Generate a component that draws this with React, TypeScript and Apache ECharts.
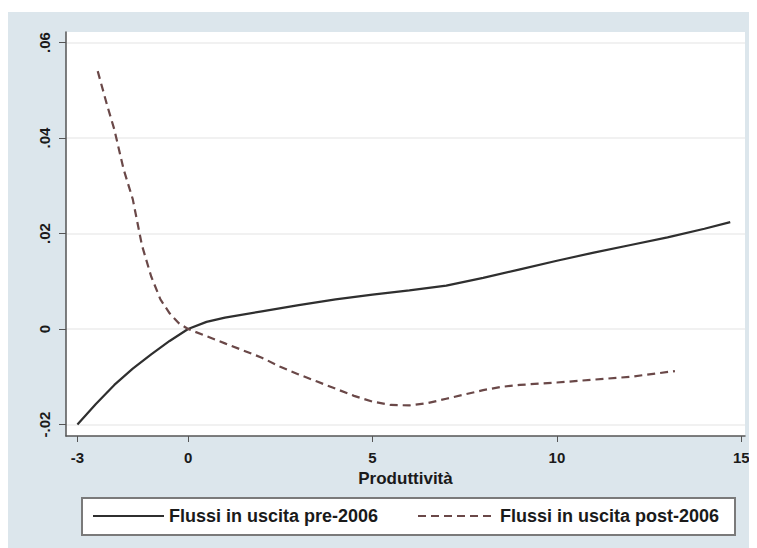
import React, { useEffect, useRef } from "react";
import * as echarts from "echarts";

const preX = [-3, -2.5, -2, -1.5, -1, -0.5, 0, 0.5, 1, 2, 3, 4, 5, 6, 7, 8, 9, 10, 11, 12, 13, 14, 14.7];
const preY = [-0.02, -0.0157, -0.0117, -0.0083, -0.0053, -0.0025, 0, 0.0015, 0.0024, 0.0037, 0.005, 0.0062, 0.0072, 0.0081, 0.0091, 0.0107, 0.0125, 0.0143, 0.016, 0.0176, 0.0192, 0.021, 0.0224];

const postX = [-2.45, -2.2, -2.0, -1.75, -1.5, -1.25, -1.0, -0.75, -0.5, -0.25, 0, 0.5, 1, 1.5, 2, 2.5, 3, 3.5, 4, 4.5, 5, 5.5, 6, 6.5, 7, 7.5, 8, 8.5, 9, 10, 11, 12, 13.2];
const postY = [0.054, 0.047, 0.0418, 0.0335, 0.0272, 0.0175, 0.011, 0.0062, 0.0033, 0.0012, 0, -0.0015, -0.003, -0.0045, -0.006, -0.0079, -0.0095, -0.011, -0.0125, -0.014, -0.0152, -0.0159, -0.016, -0.0155, -0.0146, -0.0137, -0.0128, -0.0121, -0.0117, -0.0112, -0.0106, -0.01, -0.0088];

const xTicks = [-3, 0, 5, 10, 15];
const yTicks = [-0.02, 0, 0.02, 0.04, 0.06];
const yTickLabels = ["-.02", "0", ".02", ".04", ".06"];

const seriesNames = ["Flussi in uscita pre-2006", "Flussi in uscita post-2006"];
const xTitle = "Produttività";

const FONT = "'Liberation Sans', Arial, sans-serif";
const TXT = "#1a1a1a";

export default function App() {
  const ref = useRef<HTMLDivElement>(null);
  useEffect(() => {
    if (!ref.current) return;
    const chart = echarts.init(ref.current, undefined, { renderer: "svg" });
    const labelFor = (v: number) => {
      let best = 0;
      for (let i = 0; i < yTicks.length; i++) {
        if (Math.abs(yTicks[i] - v) < Math.abs(yTicks[best] - v)) best = i;
      }
      return yTickLabels[best];
    };
    const legendText = { color: TXT, fontSize: 18, fontWeight: "bold" as const, fontFamily: FONT };
    chart.setOption({
      animation: false,
      backgroundColor: "#dce6ec",
      textStyle: { fontFamily: FONT },
      grid: {
        left: 58,
        top: 20,
        right: 12,
        bottom: 112,
        show: true,
        backgroundColor: "#ffffff",
        borderWidth: 0,
      },
      xAxis: {
        type: "value",
        min: -3.31,
        max: 15.1,
        name: xTitle,
        nameLocation: "middle",
        nameGap: 31,
        nameTextStyle: { color: TXT, fontSize: 17, fontWeight: "bold", fontFamily: FONT },
        axisLine: { show: true, onZero: false, lineStyle: { color: "#555", width: 1.5 } },
        axisTick: { show: true, length: 6, customValues: xTicks, lineStyle: { color: "#555" } },
        axisLabel: {
          customValues: xTicks,
          margin: 14,
          color: TXT,
          fontSize: 15,
          fontWeight: "bold",
          fontFamily: FONT,
          formatter: (v: number) => String(v),
        },
        splitLine: { show: false },
      },
      yAxis: {
        type: "value",
        min: -0.0224,
        max: 0.0622,
        axisLine: { show: true, onZero: false, lineStyle: { color: "#555", width: 1.5 } },
        axisTick: { show: true, length: 7, customValues: yTicks, lineStyle: { color: "#555" } },
        axisLabel: {
          customValues: yTicks,
          rotate: 90,
          margin: 14,
          color: TXT,
          fontSize: 15,
          fontWeight: "bold",
          fontFamily: FONT,
          formatter: (v: number) => labelFor(v),
        },
        splitLine: { show: true, lineStyle: { color: "#ececec", width: 1.5 } },
      },
      graphic: [
        {
          type: "rect",
          shape: { x: 74, y: 486, width: 653, height: 37 },
          style: { fill: "#ffffff", stroke: "#7a7a7a", lineWidth: 2 },
          z: -1,
          silent: true,
        },
      ],
      legend: [
        {
          data: [seriesNames[0]],
          left: 84,
          top: 495,
          padding: 0,
          itemWidth: 71,
          itemHeight: 18,
          itemGap: 0,
          itemTextGap: 10,
          itemStyle: { opacity: 0 },
          textStyle: legendText,
        },
        {
          data: [seriesNames[1]],
          left: 409,
          top: 495,
          padding: 0,
          itemWidth: 77,
          itemHeight: 18,
          itemGap: 0,
          itemTextGap: 9,
          itemStyle: { opacity: 0 },
          textStyle: legendText,
        },
      ],
      series: [
        {
          name: seriesNames[0],
          type: "line",
          data: preX.map((x, i) => [x, preY[i]]),
          symbol: "none",
          smooth: false,
          lineStyle: { color: "#2f2f2f", width: 2.2 },
          itemStyle: { color: "#2f2f2f" },
        },
        {
          name: seriesNames[1],
          type: "line",
          data: postX.map((x, i) => [x, postY[i]]),
          symbol: "none",
          smooth: false,
          lineStyle: { color: "#6a4848", width: 2.2, type: [8, 5] },
          itemStyle: { color: "#6a4848" },
        },
      ],
    });
    return () => chart.dispose();
  }, []);
  return (
    <div style={{ paddingTop: 4 }}>
      <div ref={ref} style={{ width: 749, height: 536 }} />
    </div>
  );
}
